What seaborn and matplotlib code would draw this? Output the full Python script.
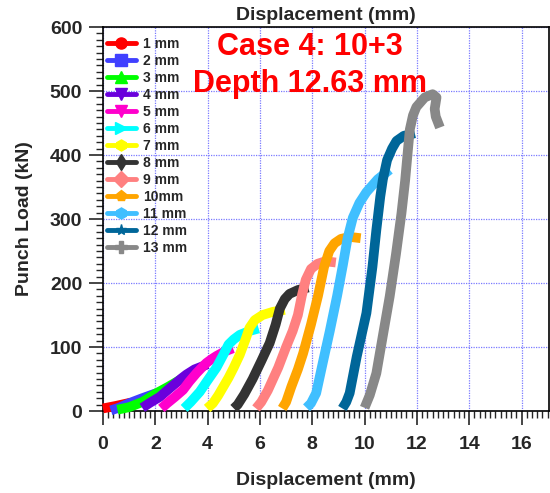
import matplotlib
matplotlib.use("Agg")
import matplotlib.pyplot as plt
from matplotlib.lines import Line2D
import seaborn as sns

sns.set_style("white")
plt.rcParams["font.family"] = ["Liberation Sans", "DejaVu Sans"]
plt.rcParams["font.weight"] = "bold"

# Punch load vs displacement for each punch step
labels = ["1 mm", "2 mm", "3 mm", "4 mm", "5 mm", "6 mm", "7 mm",
          "8 mm", "9 mm", "10mm", "11 mm", "12 mm", "13 mm"]
colors = ["#ff0000", "#4040ff", "#00ff00", "#6a00dc", "#ff00cc", "#00ffff",
          "#ffff00", "#333333", "#ff8080", "#ffa500", "#40bfff", "#006699", "#888888"]
markers = ["o", "s", "^", "v", "v", ">", "h", "d", "D", "p", "h", "*", "P"]

disp_1 = [0.0, 0.5, 1.05]
load_1 = [4, 8, 13]
disp_2 = [0.3, 0.6, 1.05, 1.5, 2.05]
load_2 = [1, 5, 13, 20, 28]
disp_3 = [0.55, 1.0, 1.5, 2.05, 2.5, 3.0]
load_3 = [2, 6, 14, 28, 38, 50]
disp_4 = [1.5, 1.8, 2.17, 2.45, 2.68, 3.0, 3.19, 3.5, 4.0]
load_4 = [5, 13, 22, 32, 40, 51, 57, 65, 73]
disp_5 = [2.23, 2.45, 2.75, 3.06, 3.3, 3.57, 3.78, 3.95, 4.15, 4.34, 4.65, 4.97]
load_5 = [4, 12, 22, 33, 46, 59, 68, 75, 81, 86, 93, 98]
disp_6 = [3.1, 3.35, 3.7, 4.0, 4.34, 4.6, 4.8, 5.0, 5.23, 5.6, 5.95]
load_6 = [4, 14, 30, 48, 68, 88, 104, 112, 119, 125, 129]
disp_7 = [3.98, 4.2, 4.4, 4.6, 4.8, 5.0, 5.23, 5.45, 5.6, 5.8, 6.1, 6.5, 6.95]
load_7 = [4, 12, 24, 38, 52, 68, 88, 112, 130, 142, 150, 155, 158]
disp_8 = [5.0, 5.15, 5.4, 5.72, 6.05, 6.37, 6.6, 6.76, 6.95, 7.13, 7.45, 7.85]
load_8 = [4, 10, 26, 50, 78, 106, 135, 160, 175, 183, 189, 193]
disp_9 = [5.85, 6.05, 6.3, 6.7, 7.0, 7.25, 7.45, 7.6, 7.75, 7.95, 8.2, 8.5, 8.9]
load_9 = [4, 14, 32, 68, 100, 125, 150, 180, 205, 222, 230, 234, 232]
disp_10 = [6.85, 7.0, 7.2, 7.45, 7.65, 7.95, 8.22, 8.45, 8.65, 8.85, 9.1, 9.45, 9.85]
load_10 = [4, 14, 38, 65, 90, 135, 180, 225, 250, 262, 269, 272, 270]
disp_11 = [7.78, 7.95, 8.15, 8.4, 8.67, 8.95, 9.17, 9.35, 9.55, 9.8, 10.07, 10.5, 10.96]
load_11 = [5, 12, 28, 75, 125, 180, 228, 270, 302, 325, 342, 362, 377]
disp_12 = [9.15, 9.3, 9.43, 9.7, 10.07, 10.3, 10.45, 10.6, 10.7, 10.86, 11.05, 11.22, 11.5, 11.92]
load_12 = [4, 14, 28, 85, 153, 225, 283, 335, 362, 392, 410, 422, 430, 434]
disp_13 = [10.0, 10.2, 10.45, 10.7, 10.96, 11.2, 11.41, 11.55, 11.65, 11.73, 11.85,
           11.98, 12.3, 12.6, 12.75, 12.68, 12.72, 12.88]
load_13 = [5, 25, 59, 118, 179, 245, 309, 360, 405, 440, 462,
           475, 490, 495, 490, 472, 460, 443]

curves = [(disp_1, load_1), (disp_2, load_2), (disp_3, load_3), (disp_4, load_4),
          (disp_5, load_5), (disp_6, load_6), (disp_7, load_7), (disp_8, load_8),
          (disp_9, load_9), (disp_10, load_10), (disp_11, load_11),
          (disp_12, load_12), (disp_13, load_13)]

fig = plt.figure(figsize=(5.5, 4.93), dpi=100)
ax = fig.add_axes([103 / 550, 1 - 411 / 493, 446 / 550, 384 / 493])

for (d, p), c in zip(curves, colors):
    sns.lineplot(x=d, y=p, sort=False, color=c, lw=7, ax=ax, legend=False,
                 solid_capstyle="butt", solid_joinstyle="round", zorder=3, clip_on=False)

ax.set_xlim(0, 17.05)
ax.set_ylim(0, 600)
ax.set_xticks(range(0, 17, 2))
ax.set_yticks(range(0, 601, 100))
ax.set_xticks([i * 0.2 for i in range(0, 86)], minor=True)
ax.set_yticks(range(0, 601, 10), minor=True)
ax.grid(True, which="major", color="#7a7aff", linestyle=(0, (1, 1)), linewidth=0.9, zorder=0)
ax.tick_params(axis="both", which="major", direction="out", length=10, width=1.2,
               labelsize=14, pad=5, bottom=True, left=True, top=False, right=False)
ax.tick_params(axis="both", which="minor", direction="out", length=5, width=1.0,
               bottom=True, left=True, top=False, right=False)
ax.tick_params(axis="x", which="major", pad=8)
for s in ax.spines.values():
    s.set_color("black")
    s.set_linewidth(1.2)

ax.set_xlabel("Displacement (mm)", fontsize=14, fontweight="bold", labelpad=14)
ax.set_ylabel("Punch Load (kN)", fontsize=14, fontweight="bold", labelpad=12)
ax.set_title("Displacement (mm)", fontsize=14, fontweight="bold", pad=5)

ax.text(7.9, 556, "Case 4: 10+3", color="#ff0000", fontsize=22, fontweight="bold",
        ha="center", va="baseline")
ax.text(7.9, 498, "Depth 12.63 mm", color="#ff0000", fontsize=22, fontweight="bold",
        ha="center", va="baseline")

handles = [Line2D([0], [0], color=c, lw=3.5, marker=m, markersize=8,
                  markerfacecolor=c, markeredgecolor=c)
           for c, m in zip(colors, markers)]
ax.legend(handles, labels, loc="upper left", bbox_to_anchor=(0.008, 0.975),
          frameon=False, handlelength=2.15, handletextpad=0.45,
          labelspacing=0.22, borderpad=0, borderaxespad=0,
          prop={"weight": "bold", "size": 10})

fig.savefig("out.png", dpi=100)
